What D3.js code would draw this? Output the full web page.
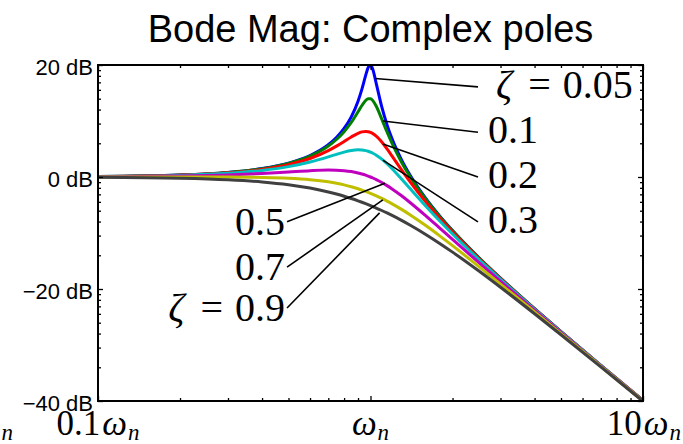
<!DOCTYPE html>
<html>
<head>
<meta charset="utf-8">
<script src="https://cdn.jsdelivr.net/npm/d3@7"></script>
<style>
  body { margin: 0; background: #fff; }
  svg { display: block; }
</style>
</head>
<body>
<svg id="chart" width="683" height="444"></svg>
<script>
// Normalised frequency samples (ω / ωn)
const freqs = [0.1, 0.2, 0.3, 0.4, 0.5, 0.6, 0.7, 0.75, 0.8, 0.85, 0.9, 0.93, 0.96, 0.98,
  1.0, 1.02, 1.05, 1.1, 1.15, 1.2, 1.3, 1.4, 1.6, 1.8, 2, 2.5, 3, 4, 5, 7, 10];

// Damping ratios
const zetas = [0.05, 0.1, 0.2, 0.3, 0.5, 0.7, 0.9];

// Magnitude (dB) of each damping ratio at the frequencies above
const mag005 = [0.087, 0.353, 0.814, 1.505, 2.480, 3.838, 5.768, 7.055, 8.665, 10.745, 13.546, 15.702, 18.135, 19.519,
  20.000, 19.195, 16.669, 12.503, 9.310, 6.819, 3.072, 0.263, -3.908, -7.033, -9.562, -14.413, -18.068, -23.525, -27.606, -33.626, -39.913];
const mag01 = [0.086, 0.347, 0.800, 1.475, 2.422, 3.726, 5.533, 6.698, 8.091, 9.751, 11.643, 12.770, 13.664, 13.981,
  13.979, 13.640, 12.628, 10.339, 8.044, 6.000, 2.646, 0.000, -4.041, -7.116, -9.619, -14.442, -18.086, -23.534, -27.612, -33.629, -39.915];
const mag02 = [0.080, 0.325, 0.744, 1.360, 2.200, 3.305, 4.704, 5.507, 6.345, 7.153, 7.807, 8.051, 8.136, 8.090,
  7.959, 7.744, 7.284, 6.240, 5.009, 3.726, 1.270, -0.917, -4.538, -7.432, -9.841, -14.558, -18.158, -23.571, -27.634, -33.640, -39.920];
const mag03 = [0.071, 0.287, 0.653, 1.174, 1.854, 2.683, 3.600, 4.046, 4.437, 4.722, 4.845, 4.820, 4.712, 4.593,
  4.437, 4.246, 3.900, 3.190, 2.365, 1.475, -0.352, -2.114, -5.257, -7.913, -10.187, -14.744, -18.276, -23.632, -27.672, -33.658, -39.929];
const mag05 = [0.043, 0.170, 0.371, 0.627, 0.902, 1.137, 1.249, 1.227, 1.137, 0.972, 0.726, 0.540, 0.326, 0.168,
  0.000, -0.179, -0.465, -0.983, -1.543, -2.131, -3.357, -4.596, -6.984, -9.169, -11.139, -15.291, -18.633, -23.820, -27.789, -33.716, -39.957];
const mag07 = [0.001, 0.000, -0.020, -0.083, -0.222, -0.474, -0.865, -1.119, -1.411, -1.741, -2.105, -2.339, -2.583, -2.751,
  -2.923, -3.098, -3.367, -3.830, -4.307, -4.794, -5.785, -6.779, -8.722, -10.557, -12.263, -16.000, -19.119, -24.089, -27.959, -33.802, -39.999];
const mag09 = [-0.054, -0.217, -0.491, -0.878, -1.375, -1.976, -2.666, -3.040, -3.431, -3.834, -4.250, -4.503, -4.760, -4.932,
  -5.105, -5.280, -5.542, -5.982, -6.424, -6.866, -7.746, -8.617, -10.305, -11.908, -13.416, -16.795, -19.692, -24.422, -28.176, -33.914, -40.054];

const series = [mag005, mag01, mag02, mag03, mag05, mag07, mag09];
const colors = ["#0000ff", "#008000", "#ff0000", "#00bfbf", "#bf00bf", "#bfbf00", "#404040"];

// Axis ticks and labels
const xTickValues = [0.1, 1, 10];
const xTickPrefix = ["0.1", "", "10"];
const yTickValues = [-40, -20, 0, 20];
const yTickLabels = ["\u221240 dB", "\u221220 dB", "0 dB", "20 dB"];

// Curve annotations: label text, point on the curve (ω/ωn, dB), and end of the leader line
const labelText = ["0.05", "0.1", "0.2", "0.3", "0.5", "0.7", "0.9"];
const labelHasZeta = [true, false, false, false, false, false, true];
const labelSide = ["right", "right", "right", "right", "left", "left", "left"];
const leaderFreq = [1.04, 1.11, 1.11, 1.11, 1.13, 1.11, 1.08];
const leaderDb = [17.6, 10.0, 5.9, 3.0, -1.1, -4.1, -6.4];
const tailFreq = [2.48, 2.48, 2.48, 2.48, 0.494, 0.494, 0.494];
const tailDb = [16.1, 8.0, 0.0, -8.0, -8.0, -16.1, -23.4];

const title = "Bode Mag: Complex poles";

// ---------------------------------------------------------------
const W = 683, H = 444;
const plot = { left: 98, right: 643, top: 65, bottom: 401 };
const svg = d3.select("#chart");

const x = d3.scaleLog().domain([0.1, 10]).range([plot.left, plot.right]);
const y = d3.scaleLinear().domain([-40, 20]).range([plot.bottom, plot.top]);

const sansFont = "'Liberation Sans', Arial, Helvetica, sans-serif";
const serifFont = "'Liberation Serif', 'Times New Roman', serif";

svg.append("defs").append("clipPath").attr("id", "plot-clip")
  .append("rect")
  .attr("x", plot.left).attr("y", plot.top)
  .attr("width", plot.right - plot.left).attr("height", plot.bottom - plot.top);

// Curves
const line = d3.line()
  .x((d, i) => x(freqs[i]))
  .y(d => y(d))
  .curve(d3.curveMonotoneX);

svg.append("g").attr("clip-path", "url(#plot-clip)")
  .selectAll("path")
  .data(series)
  .join("path")
  .attr("d", line)
  .attr("fill", "none")
  .attr("stroke", (d, i) => colors[i])
  .attr("stroke-width", 3)
  .attr("stroke-linejoin", "round");

// Minor log ticks within each decade
const xMinor = [];
[0.1, 1].forEach(b => { for (let k = 2; k <= 9; k++) xMinor.push(b * k); });
const yMinor = [];
[-40, -20, 0].forEach(b => { for (let k = 2; k <= 9; k++) yMinor.push(b + 20 * Math.log10(k)); });

function ticks(axis, vals, len, tx, ty) {
  const g = svg.append("g").attr("transform", `translate(${tx},${ty})`)
    .call(axis.tickValues(vals).tickSize(-len).tickFormat(""));
  g.select(".domain").remove();
  g.selectAll("line").attr("stroke", "#000").attr("stroke-width", 1.3);
}
ticks(d3.axisLeft(y), yTickValues, 5, plot.left, 0);
ticks(d3.axisLeft(y), yMinor, 3, plot.left, 0);
ticks(d3.axisRight(y), yTickValues, 5, plot.right, 0);
ticks(d3.axisRight(y), yMinor, 3, plot.right, 0);
ticks(d3.axisBottom(x), xTickValues, 5, 0, plot.bottom);
ticks(d3.axisBottom(x), xMinor, 3, 0, plot.bottom);
ticks(d3.axisTop(x), xTickValues, 5, 0, plot.top);
ticks(d3.axisTop(x), xMinor, 3, 0, plot.top);

// Frame
svg.append("rect")
  .attr("x", plot.left).attr("y", plot.top)
  .attr("width", plot.right - plot.left).attr("height", plot.bottom - plot.top)
  .attr("fill", "none").attr("stroke", "#000").attr("stroke-width", 2);

// Y tick labels
svg.append("g").selectAll("text")
  .data(yTickValues)
  .join("text")
  .attr("x", plot.left - 5)
  .attr("y", d => y(d) + 10)
  .attr("text-anchor", "end")
  .attr("font-family", sansFont)
  .attr("font-size", 22)
  .text((d, i) => yTickLabels[i]);

// X tick labels: prefix + italic ω with subscript n
function omegaLabel(g, prefix) {
  if (prefix) g.append("tspan").text(prefix);
  g.append("tspan").attr("font-style", "italic").attr("dx", prefix ? 2 : 0).text("\u03c9");
  g.append("tspan").attr("font-style", "italic").attr("font-size", 23).attr("dx", 1).attr("dy", 5).text("n");
}
const xl = svg.append("g").attr("font-family", serifFont).attr("font-size", 35);
xTickValues.forEach((v, i) => {
  const t = xl.append("text")
    .attr("x", i === 2 ? W - 2 : x(v))
    .attr("y", 435)
    .attr("text-anchor", i === 2 ? "end" : "middle");
  omegaLabel(t, xTickPrefix[i]);
});
// partial label at the left border
const edge = xl.append("text").attr("x", 13).attr("y", 435).attr("text-anchor", "end");
omegaLabel(edge, "");

// Title
svg.append("text")
  .attr("x", 370.5).attr("y", 42)
  .attr("text-anchor", "middle")
  .attr("font-family", sansFont)
  .attr("font-size", 38)
  .text(title);

// Leader lines and labels
const ann = svg.append("g");
labelText.forEach((txt, i) => {
  const x1 = x(leaderFreq[i]), y1 = y(leaderDb[i]);
  const x2 = x(tailFreq[i]), y2 = y(tailDb[i]);
  ann.append("line")
    .attr("x1", x1).attr("y1", y1).attr("x2", x2).attr("y2", y2)
    .attr("stroke", "#000").attr("stroke-width", 1.6);
  const right = labelSide[i] === "right";
  const t = ann.append("text")
    .attr("x", right ? x2 + 10 : x2 - 2)
    .attr("y", y2 + (right ? 11 : 13))
    .attr("text-anchor", right ? "start" : "end")
    .attr("font-family", serifFont)
    .attr("font-size", 40);
  if (labelHasZeta[i]) {
    t.append("tspan").attr("font-style", "italic").attr("dx", right ? 8 : 0).text("\u03b6");
    t.append("tspan").attr("dx", 16).text("=");
    t.append("tspan").attr("dx", 12).text(txt);
  } else {
    t.append("tspan").text(txt);
  }
});
</script>
</body>
</html>
